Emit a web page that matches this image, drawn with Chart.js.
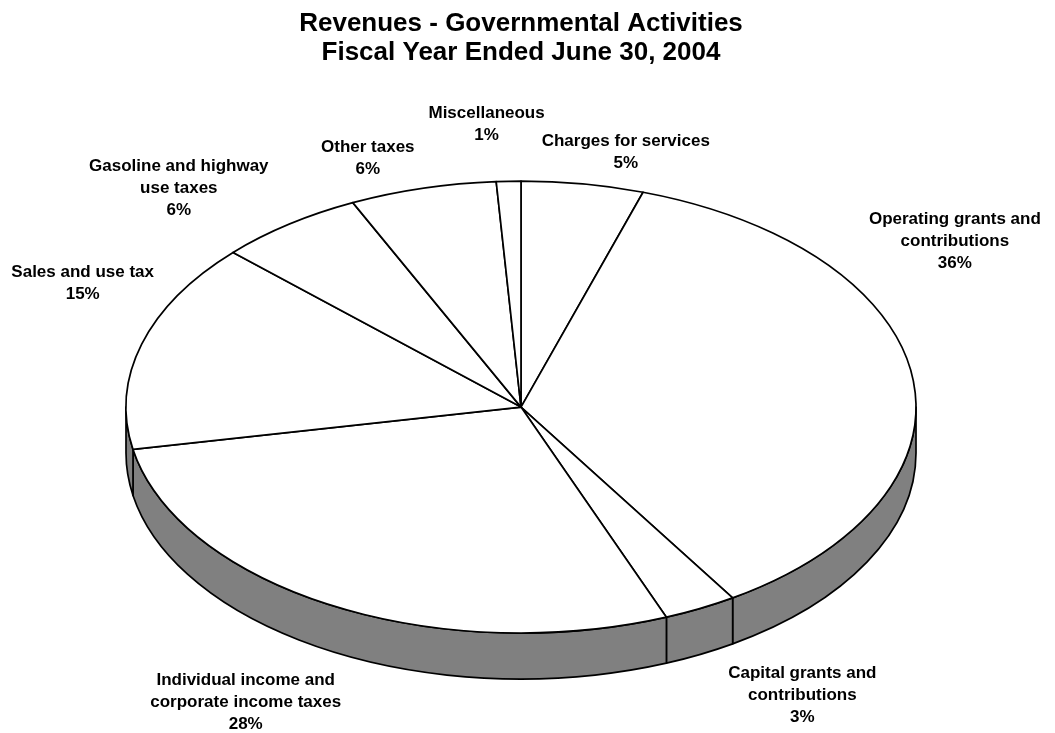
<!DOCTYPE html>
<html>
<head>
<meta charset="utf-8">
<title>Revenues - Governmental Activities</title>
<script src="https://cdn.jsdelivr.net/npm/chart.js@4.4.1/dist/chart.umd.min.js"></script>
<style>
  html, body { margin: 0; padding: 0; background: #fff; }
  canvas { display: block; }
</style>
</head>
<body>
<canvas id="revenueChart" width="1055" height="733"></canvas>
<script>
// revenue sources, clockwise from 12 o'clock
const categoryLines = [
  ['Charges for services'],
  ['Operating grants and', 'contributions'],
  ['Capital grants and', 'contributions'],
  ['Individual income and', 'corporate income taxes'],
  ['Sales and use tax'],
  ['Gasoline and highway', 'use taxes'],
  ['Other taxes'],
  ['Miscellaneous']
];
const categories = categoryLines.map(l => l.join(' '));
const shares = [5, 36, 3, 28, 15, 6, 6, 1];
const titleLines = ['Revenues - Governmental Activities', 'Fiscal Year Ended June 30, 2004'];

// label block offset from the rim point at the middle of each slice
const labelNudge = [[43, -32], [42, -137], [102, 87], [-85, 97], [-59, -61], [-110, -36], [-55, -30], [-22, -57]];

const FONT = "'Liberation Sans', Arial, Helvetica, sans-serif";
const TILT = 0.572;      // height/width of the top face
const DEPTH = 46;        // thickness of the disc
const LINE = 22;         // label line spacing
const SIDE_GRAY = '#808080';

// draws the pie as a tilted disc using the arcs the doughnut controller laid out
const pie3d = {
  id: 'pie3d',
  beforeDatasetsDraw(chart) {
    const ctx = chart.ctx;
    const arcs = chart.getDatasetMeta(0).data;
    if (!arcs.length) return false;
    const cx = arcs[0].x, cy = arcs[0].y;
    const rx = arcs[0].outerRadius, ry = rx * TILT;

    ctx.save();
    ctx.lineWidth = 1.7;
    ctx.strokeStyle = '#000';
    ctx.lineJoin = 'round';

    // front wall, only the part of each slice that faces the viewer
    arcs.forEach(arc => {
      const s = Math.max(arc.startAngle, 0);
      const e = Math.min(arc.endAngle, Math.PI);
      if (e <= s) return;
      ctx.beginPath();
      ctx.ellipse(cx, cy, rx, ry, 0, s, e);
      ctx.lineTo(cx + rx * Math.cos(e), cy + DEPTH + ry * Math.sin(e));
      ctx.ellipse(cx, cy + DEPTH, rx, ry, 0, e, s, true);
      ctx.closePath();
      ctx.fillStyle = SIDE_GRAY;
      ctx.fill();
      ctx.stroke();
    });

    // top face
    arcs.forEach(arc => {
      ctx.beginPath();
      ctx.moveTo(cx, cy);
      ctx.ellipse(cx, cy, rx, ry, 0, arc.startAngle, arc.endAngle);
      ctx.closePath();
      ctx.fillStyle = '#ffffff';
      ctx.fill();
      ctx.stroke();
    });
    ctx.restore();
    return false;
  },
  afterDraw(chart) {
    const ctx = chart.ctx;
    const arcs = chart.getDatasetMeta(0).data;
    ctx.save();
    ctx.font = 'bold 17px ' + FONT;
    ctx.fillStyle = '#000';
    ctx.textAlign = 'center';
    ctx.textBaseline = 'middle';
    arcs.forEach((arc, i) => {
      const mid = (arc.startAngle + arc.endAngle) / 2;
      const rx = arc.outerRadius, ry = rx * TILT;
      const lines = categoryLines[i].concat(shares[i] + '%');
      const x = arc.x + rx * Math.cos(mid) + labelNudge[i][0];
      const y0 = arc.y + ry * Math.sin(mid) + labelNudge[i][1] - (lines.length - 1) * LINE / 2;
      lines.forEach((t, k) => ctx.fillText(t, x, y0 + k * LINE));
    });
    ctx.restore();
  }
};

new Chart(document.getElementById('revenueChart').getContext('2d'), {
  type: 'pie',
  data: {
    labels: categories,
    datasets: [{
      data: shares,
      backgroundColor: '#ffffff',
      borderColor: '#000000',
      borderWidth: 1.7,
      radius: 395
    }]
  },
  options: {
    responsive: false,
    animation: false,
    events: [],
    layout: { padding: { left: 0, right: 13, top: 0, bottom: 0 } },
    plugins: {
      legend: { display: false },
      tooltip: { enabled: false },
      title: {
        display: true,
        text: titleLines,
        color: '#000',
        font: { family: FONT, size: 26, weight: 'bold', lineHeight: 1.1 },
        padding: { top: 10, bottom: 14 }
      }
    }
  },
  plugins: [pie3d]
});
</script>
</body>
</html>
